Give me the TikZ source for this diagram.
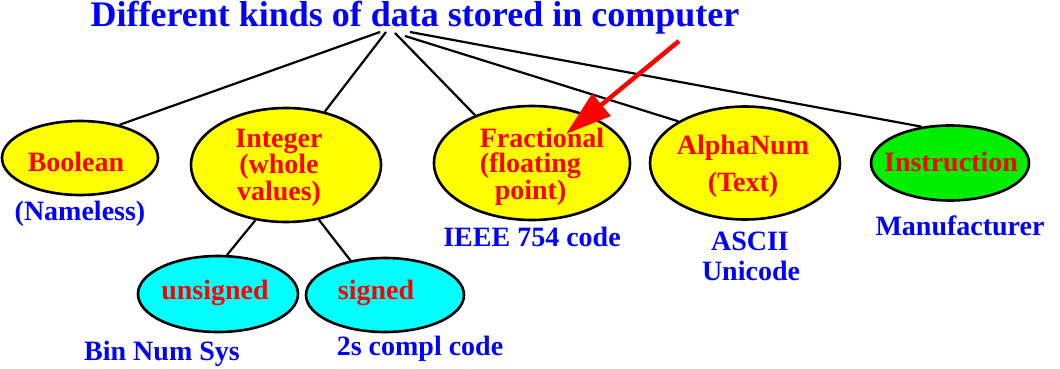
\documentclass[tikz,border=0pt]{standalone}
\usepackage{fontspec}
\setmainfont{Liberation Serif}
\usetikzlibrary{shapes.geometric, arrows.meta}

\definecolor{kindblue}{RGB}{0,0,255}
\definecolor{kindred}{RGB}{255,0,0}
\definecolor{kindyellow}{RGB}{255,255,0}
\definecolor{kindcyan}{RGB}{0,255,255}
\definecolor{kindgreen}{RGB}{0,238,0}

\begin{document}
\begin{tikzpicture}[x=1pt, y=-1pt,
  kind/.style={draw, ellipse, line width=2.6pt, inner sep=0pt},
  kindtext/.style={anchor=base, inner sep=0pt, align=center, text=kindred, font=\fontsize{28}{24.5}\selectfont\bfseries},
  note/.style={anchor=base, inner sep=0pt, text=kindblue, font=\fontsize{28}{30}\selectfont\bfseries},
  link/.style={line width=2.2pt}
]
\useasboundingbox (0,0) rectangle (1060,369);

% ---- Title ----
\node[anchor=base, inner sep=0pt, text=kindblue, font=\fontsize{36}{40}\selectfont\bfseries] (title) at (415,27) {Different kinds of data stored in computer};
\coordinate (h1) at (380,32);
\coordinate (h2) at (386,32);
\coordinate (h3) at (395,33);
\coordinate (h4) at (405,36);
\coordinate (h5) at (410,32);

% ---- Kinds of data ----
\node[kind, fill=kindyellow, minimum width=156pt, minimum height=74pt] (bool) at (80,158) {};
\node[kind, fill=kindyellow, minimum width=190pt, minimum height=114pt] (int) at (286,165) {};
\node[kind, fill=kindyellow, minimum width=196pt, minimum height=114pt] (frac) at (532,163) {};
\node[kind, fill=kindyellow, minimum width=190pt, minimum height=113pt] (alpha) at (745,163) {};
\node[kind, fill=kindgreen, minimum width=158pt, minimum height=75pt] (instr) at (950,163) {};

% base of a multi-line text is its last line
\node[kindtext] (boolt) at (76,171) {Boolean};
\node[kindtext] (intt) at (279,200) {Integer\\(whole\\values)};
\node[kindtext, align=left] (fract) at (542,199) {Fractional\\(floating\\\hspace*{15pt}point)};
\node[kindtext] (alphat) at (743,191) {AlphaNum\\[10.5pt](Text)};
\node[kindtext] (instrt) at (951,171) {Instruction};

% ---- Integer sub-kinds ----
\node[kind, fill=kindcyan, minimum width=160pt, minimum height=76pt] (unsig) at (218,294) {};
\node[kind, fill=kindcyan, minimum width=158pt, minimum height=74pt] (sig) at (385,295) {};
\node[kindtext] (unsigt) at (215,299) {unsigned};
\node[kindtext] (sigt) at (376,299) {signed};

% ---- Codes ----
\node[note] (nameless) at (80,220) {(Nameless)};
\node[note] (ieee) at (532,246) {IEEE 754 code};
\node[note] (ascii) at (750,250) {ASCII};
\node[note] (unicode) at (751,280) {Unicode};
\node[note] (manuf) at (960,235) {Manufacturer};
\node[note] (binnum) at (162,360) {Bin Num Sys};
\node[note] (twos) at (420,355) {2s compl code};

% ---- Links ----
\draw[link] (h1) -- (bool.40);
\draw[link] (h2) -- (int.54);
\draw[link] (h3) -- (frac.140);
\draw[link] (h4) -- (alpha.148);
\draw[link] (h5) -- (instr.128);
\draw[link] (int.241) -- (unsig.77);
\draw[link] (int.301) -- (sig.135);

% ---- Red pointer ----
\coordinate (ptail) at (679,41);
\coordinate (ptip) at (566,134);
\draw[line width=4.5pt, kindred, -{Triangle[length=46pt, width=28pt]}] (ptail) -- (ptip);

\end{tikzpicture}
\end{document}
